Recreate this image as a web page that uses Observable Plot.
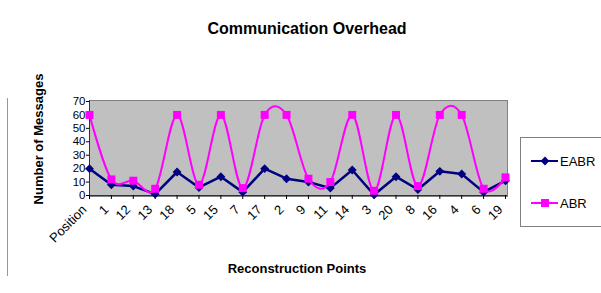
<!DOCTYPE html>
<html>
<head>
<meta charset="utf-8">
<script src="https://cdn.jsdelivr.net/npm/d3@7"></script>
<script src="https://cdn.jsdelivr.net/npm/@observablehq/plot@0.6"></script>
<style>
  html, body { margin: 0; padding: 0; background: #fff; }
  #wrap { position: relative; width: 601px; height: 293px; overflow: hidden; font-family: "Liberation Sans", Arial, sans-serif; }
  .t { position: absolute; font-weight: bold; color: #000; white-space: nowrap; line-height: 1; }
  #frameLine { position: absolute; left: 7px; top: 98px; width: 1px; height: 178px; background: #999; }
</style>
</head>
<body>
<div id="wrap">
  <div id="frameLine"></div>
</div>
<script>
const categories = ["Position","1","12","13","18","5","15","7","17","2","9","11","14","3","20","8","16","4","6","19"];
const eabr = [20, 8, 7, 1, 17.5, 6, 14, 2.5, 20, 12.5, 10, 5.5, 19, 0.5, 14, 4.5, 18, 16, 2.5, 11];
const abr  = [60, 12, 11, 5, 60, 8, 60, 5.5, 60, 60, 12.5, 10, 60, 3.5, 60, 7, 60, 60, 5, 13.5];
const yTicks = [0, 10, 20, 30, 40, 50, 60, 70];
const seriesNames = ["EABR", "ABR"];
const seriesColors = ["#000080", "#FF00FF"];
const titleText = "Communication Overhead";
const xTitle = "Reconstruction Points";
const yTitle = "Number of Messages";

const rowsE = categories.map((c, i) => ({i, cat: c, v: eabr[i]}));
const rowsA = categories.map((c, i) => ({i, cat: c, v: abr[i]}));
const idx = categories.map((c, i) => i);

const chart = Plot.plot({
  width: 601,
  height: 293,
  marginLeft: 89,
  marginRight: 96,
  marginTop: 101,
  marginBottom: 98,
  style: {fontFamily: "'Liberation Sans', Arial, sans-serif", fontSize: "13px", color: "#000", background: "transparent", overflow: "visible"},
  x: {type: "linear", domain: [0, categories.length - 1]},
  y: {domain: [0, 70]},
  marks: [
    Plot.frame({fill: "#C0C0C0", stroke: "#808080", insetTop: -1, insetBottom: -1, insetRight: -2}),
    Plot.ruleX([0], {stroke: "#333", insetTop: -1, insetBottom: -1}),
    Plot.ruleY([0], {stroke: "#333", insetRight: -2}),
    Plot.axisY({ticks: yTicks, tickSize: 3, tickPadding: 1, label: null, fontSize: 11.5}),
    Plot.axisX({ticks: idx, tickFormat: (d) => categories[d], tickRotate: -45, tickSize: 0, tickPadding: 3, label: null, fontSize: 13, dx: -5, dy: 9}),
    Plot.axisX({ticks: idx, tickFormat: () => "", tickSize: 4, label: null}),
    Plot.line(rowsE, {x: "i", y: "v", stroke: seriesColors[0], strokeWidth: 2.5}),
    Plot.dot(rowsE, {x: "i", y: "v", symbol: "diamond2", fill: seriesColors[0], r: 4}),
    Plot.line(rowsA, {x: "i", y: "v", stroke: seriesColors[1], strokeWidth: 2, curve: "cardinal", tension: 0}),
    Plot.dot(rowsA, {x: "i", y: "v", symbol: "square", fill: seriesColors[1], r: 4.5})
  ]
});
chart.style.position = "absolute";
chart.style.left = "0px";
chart.style.top = "0px";
const wrap = document.getElementById("wrap");
wrap.appendChild(chart);

function addText(txt, css) {
  const d = document.createElement("div");
  d.className = "t";
  d.textContent = txt;
  Object.assign(d.style, css);
  wrap.appendChild(d);
  return d;
}
addText(titleText, {left: "307px", top: "29px", fontSize: "16px", transform: "translate(-50%,-50%)"});
addText(xTitle, {left: "297px", top: "268px", fontSize: "13px", transform: "translate(-50%,-50%)"});
addText(yTitle, {left: "38px", top: "139px", fontSize: "13px", transform: "translate(-50%,-50%) rotate(-90deg)"});

// legend
const leg = d3.select(wrap).append("svg")
  .attr("width", 100).attr("height", 92)
  .style("position", "absolute").style("left", "520px").style("top", "137px")
  .style("font-family", "'Liberation Sans', Arial, sans-serif").style("font-size", "13px");
leg.append("rect").attr("x", 0.5).attr("y", 0.5).attr("width", 98).attr("height", 89)
  .attr("fill", "#fff").attr("stroke", "#808080");
const symbols = [d3.symbolDiamond2, d3.symbolSquare];
const sizes = [Math.PI * 16, Math.PI * 4.5 * 4.5];
seriesNames.forEach((name, i) => {
  const y = i === 0 ? 24 : 66;
  leg.append("line").attr("x1", 11).attr("x2", 38).attr("y1", y).attr("y2", y)
    .attr("stroke", seriesColors[i]).attr("stroke-width", 2);
  leg.append("path").attr("d", d3.symbol(symbols[i], sizes[i])())
    .attr("transform", `translate(25,${y})`).attr("fill", seriesColors[i]);
  leg.append("text").attr("x", 40).attr("y", y).attr("dy", "0.35em").text(name);
});
</script>
</body>
</html>
